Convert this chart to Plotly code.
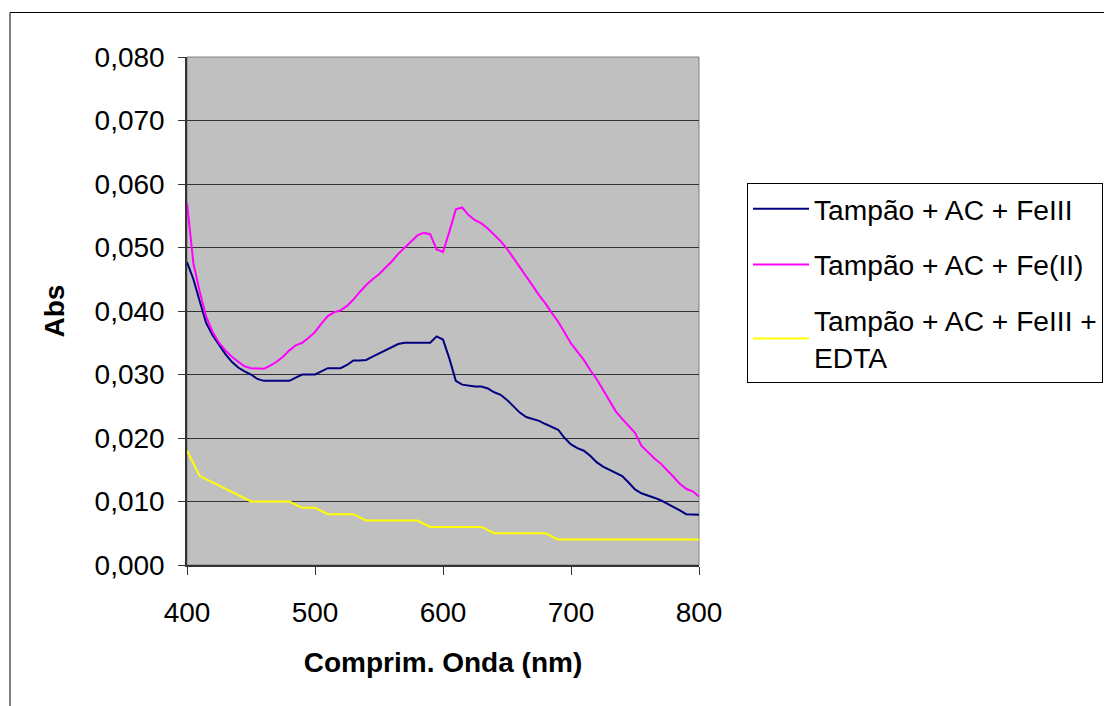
import plotly.graph_objects as go

# Absorbance spectra
wl = list(range(400, 805, 5))

abs_fe3 = [
    0.0477, 0.0450, 0.0415, 0.0381, 0.0362, 0.0347, 0.0332, 0.0320, 0.0311, 0.0305,
    0.0300, 0.0293, 0.0290, 0.0290, 0.0290, 0.0290, 0.0290, 0.0295, 0.0300, 0.0300,
    0.0300, 0.0305, 0.0310, 0.0310, 0.0310, 0.0315, 0.0322, 0.0322, 0.0323, 0.0328,
    0.0333, 0.0338, 0.0343, 0.0348, 0.0350, 0.0350, 0.0350, 0.0350, 0.0350, 0.0360,
    0.0355, 0.0325, 0.0290, 0.0284, 0.0282, 0.0281, 0.0281, 0.0278, 0.0272, 0.0268,
    0.0260, 0.0250, 0.0240, 0.0233, 0.0230, 0.0227, 0.0222, 0.0218, 0.0213, 0.0200,
    0.0190, 0.0184, 0.0180, 0.0172, 0.0162, 0.0155, 0.0150, 0.0145, 0.0140, 0.0130,
    0.0119, 0.0113, 0.0110, 0.0106, 0.0102, 0.0097, 0.0092, 0.0086, 0.0080, 0.0079,
    0.0079,
]

abs_fe2 = [
    0.0570, 0.0475, 0.0430, 0.0391, 0.0367, 0.0350, 0.0338, 0.0328, 0.0320, 0.0313,
    0.0310, 0.0309, 0.0309, 0.0314, 0.0320, 0.0328, 0.0338, 0.0346, 0.0350, 0.0358,
    0.0367, 0.0380, 0.0392, 0.0398, 0.0401, 0.0408, 0.0418, 0.0430, 0.0441, 0.0450,
    0.0458, 0.0468, 0.0478, 0.0490, 0.0500, 0.0510, 0.0519, 0.0523, 0.0521, 0.0497,
    0.0493, 0.0525, 0.0560, 0.0563, 0.0551, 0.0543, 0.0538, 0.0530, 0.0520, 0.0510,
    0.0498, 0.0484, 0.0470, 0.0456, 0.0440, 0.0425, 0.0412, 0.0397, 0.0383, 0.0366,
    0.0349, 0.0336, 0.0323, 0.0307, 0.0293, 0.0276, 0.0259, 0.0242, 0.0230, 0.0219,
    0.0208, 0.0188, 0.0178, 0.0168, 0.0160, 0.0150, 0.0139, 0.0128, 0.0120, 0.0116,
    0.0108,
]

wl_edta = list(range(400, 810, 10))
abs_edta = [
    0.018, 0.014, 0.013, 0.012, 0.011, 0.010, 0.010, 0.010, 0.010, 0.009,
    0.009, 0.008, 0.008, 0.008, 0.007, 0.007, 0.007, 0.007, 0.007, 0.006,
    0.006, 0.006, 0.006, 0.006, 0.005, 0.005, 0.005, 0.005, 0.005, 0.004,
    0.004, 0.004, 0.004, 0.004, 0.004, 0.004, 0.004, 0.004, 0.004, 0.004,
    0.004,
]

names = ["Tampão + AC + FeIII", "Tampão + AC + Fe(II)", "Tampão + AC + FeIII +<br>EDTA"]
y_ticks = [0.0, 0.01, 0.02, 0.03, 0.04, 0.05, 0.06, 0.07, 0.08]
y_labels = ["0,000", "0,010", "0,020", "0,030", "0,040", "0,050", "0,060", "0,070", "0,080"]
x_ticks = [400, 500, 600, 700, 800]

FONT = "Liberation Sans, Arial, sans-serif"

fig = go.Figure()
fig.add_trace(go.Scatter(x=wl, y=abs_fe3, mode="lines", name=names[0], legendgroup="a",
                         line=dict(color="#000080", width=2)))
fig.add_trace(go.Scatter(x=wl, y=abs_fe2, mode="lines", name=names[1], legendgroup="b",
                         line=dict(color="#FF00FF", width=2)))
fig.add_trace(go.Scatter(x=wl_edta, y=abs_edta, mode="lines", name=names[2], legendgroup="c",
                         line=dict(color="#FFFF00", width=2)))

# the page puts the figure 8px in from the top-left corner;
# plot area should land on screen x 187..699, y 57..565
OFF = 8
FW, FH = 1112 - OFF, 706 - OFF
L, T = 187 - OFF, 57 - OFF
W, H = 512, 508
R, B = FW - L - W, FH - T - H


def px(x):
    return (x - OFF - L) / W


def py(y):
    return (T + H - (y - OFF)) / H


shapes = [
    # plot area frame
    dict(type="rect", xref="paper", yref="paper", x0=0, x1=1, y0=0, y1=1,
         line=dict(color="#808080", width=1), layer="below"),
    # outer chart border (runs off the right and bottom edges)
    dict(type="rect", xref="paper", yref="paper", x0=px(10), x1=px(1140), y0=py(12.5), y1=py(730),
         line=dict(color="black", width=1)),
]

fig.update_layout(
    width=FW, height=FH,
    margin=dict(l=L, r=R, t=T, b=B, autoexpand=False),
    paper_bgcolor="white",
    plot_bgcolor="#C0C0C0",
    font=dict(family=FONT, size=28, color="black"),
    showlegend=True,
    legend=dict(x=px(747), y=py(183), xanchor="left", yanchor="top",
                bordercolor="black", borderwidth=1, bgcolor="white",
                font=dict(size=28.2), tracegroupgap=16, itemwidth=56),
    shapes=shapes,
)

fig.update_xaxes(range=[400, 800], tickvals=x_ticks, ticks="outside", ticklen=8,
                 tickcolor="#333333", showgrid=False, zeroline=False,
                 showline=True, linecolor="#333333", linewidth=1.5,
                 ticklabelstandoff=14,
                 title=dict(text="<b>Comprim. Onda (nm)</b>", font=dict(size=28), standoff=25))
fig.update_yaxes(range=[0, 0.08], tickvals=y_ticks, ticktext=y_labels, ticks="outside",
                 ticklen=7, tickcolor="#333333", showgrid=True, gridcolor="#333333",
                 gridwidth=1, zeroline=False, showline=True, linecolor="#333333",
                 linewidth=1.5, ticklabelstandoff=8,
                 title=dict(text="<b>Abs</b>", font=dict(size=28), standoff=22))

fig.write_html("out.html")
